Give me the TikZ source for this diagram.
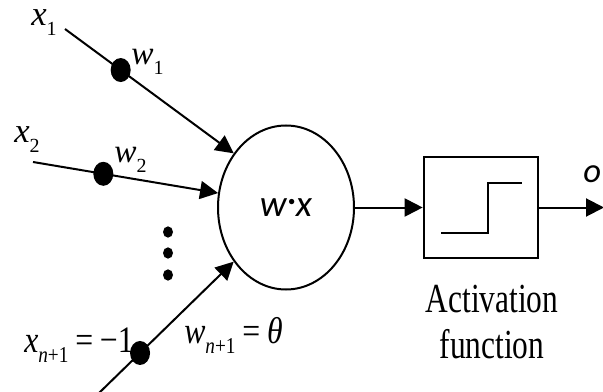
\documentclass[tikz,border=0pt]{standalone}
\usepackage{fontspec}
\setmainfont{Liberation Serif}
\newfontfamily\carl{Carlito}
\usetikzlibrary{arrows.meta,shapes.geometric}
\newcommand\vlbl[4]{{\fontsize{#3}{#3}\selectfont\itshape #1}\raisebox{-7.5pt}{\fontsize{#4}{#4}\selectfont #2}}
\tikzset{
  conn/.style={line width=1.5pt,-{Triangle[length=13.5pt,width=13.5pt]}},
  wdot/.style={fill=black,ellipse,minimum width=15pt,minimum height=18pt,inner sep=0pt},
  vdot/.style={fill=black,ellipse,minimum width=7.5pt,minimum height=8.5pt,inner sep=0pt},
  lbl/.style={inner sep=0pt,anchor=base west},
}
\begin{document}
\begin{tikzpicture}[x=0.75pt,y=-0.75pt]
\useasboundingbox (0,0) rectangle (603,392);
% summation ellipse
\node[ellipse,draw,line width=1.5pt,minimum width=102pt,minimum height=123pt,inner sep=0pt] (ell) at (286,207.5)
  {\carl\itshape\fontsize{28}{30}\selectfont w\raisebox{0.1em}{·}x};
% activation box
\node[draw,line width=1.5pt,minimum width=86pt,minimum height=75pt,inner sep=0pt] (box) at (481,207.5) {};
\draw[line width=1.5pt] (441,233) -- (488,233) -- (488,183) -- (522,183);
% input lines
\coordinate (s1) at (65,29);
\coordinate (s2) at (33,162);
\coordinate (s3) at (98,394);
\draw[conn] (s1) -- node[wdot,pos=0.33] (d1) {} (ell.134.5);
\draw[conn] (s2) -- node[wdot,pos=0.38] (d2) {} (ell.168.4);
\draw[conn] (s3) -- node[wdot,pos=0.31] (d3) {} (ell.226);
% vertical ellipsis
\node[vdot] (e1) at (168,232) {};
\node[vdot] (e2) at (168,253) {};
\node[vdot] (e3) at (168,275) {};
% outputs
\coordinate (oend) at (604,207.5);
\draw[conn] (ell.east) -- (box.west);
\draw[conn] (box.east) -- (oend);
% labels
\node[lbl] (lx1) at (31,26) {\vlbl{x}{1}{26}{15}};
\node[lbl] (lw1) at (131,65) {\vlbl{w}{1}{25}{15}};
\node[lbl] (lx2) at (14,143) {\vlbl{x}{2}{26}{15}};
\node[lbl] (lw2) at (114,163) {\vlbl{w}{2}{25}{15}};
\node[lbl] (lxn) at (24,352) {\scalebox{0.85}[1]{\vlbl{x}{\itshape n\upshape+1}{28}{17}{\fontsize{28}{28}\selectfont\hspace{6pt}=\hspace{6pt}−1}}};
\node[lbl] (lwn) at (184,343) {\scalebox{0.85}[1]{\vlbl{w}{\itshape n\upshape+1}{28}{17}{\fontsize{28}{28}\selectfont\hspace{6pt}=\hspace{6pt}\itshape θ}}};
\node[lbl] (lo) at (583,183) {\carl\itshape\fontsize{26}{30}\selectfont o};
\node[inner sep=0pt,anchor=base] (act) at (492,312) {\scalebox{0.76}[1]{\fontsize{31}{34}\selectfont Activation}};
\node[inner sep=0pt,anchor=base] (fun) at (492,358) {\scalebox{0.76}[1]{\fontsize{31}{34}\selectfont function}};
\end{tikzpicture}
\end{document}
